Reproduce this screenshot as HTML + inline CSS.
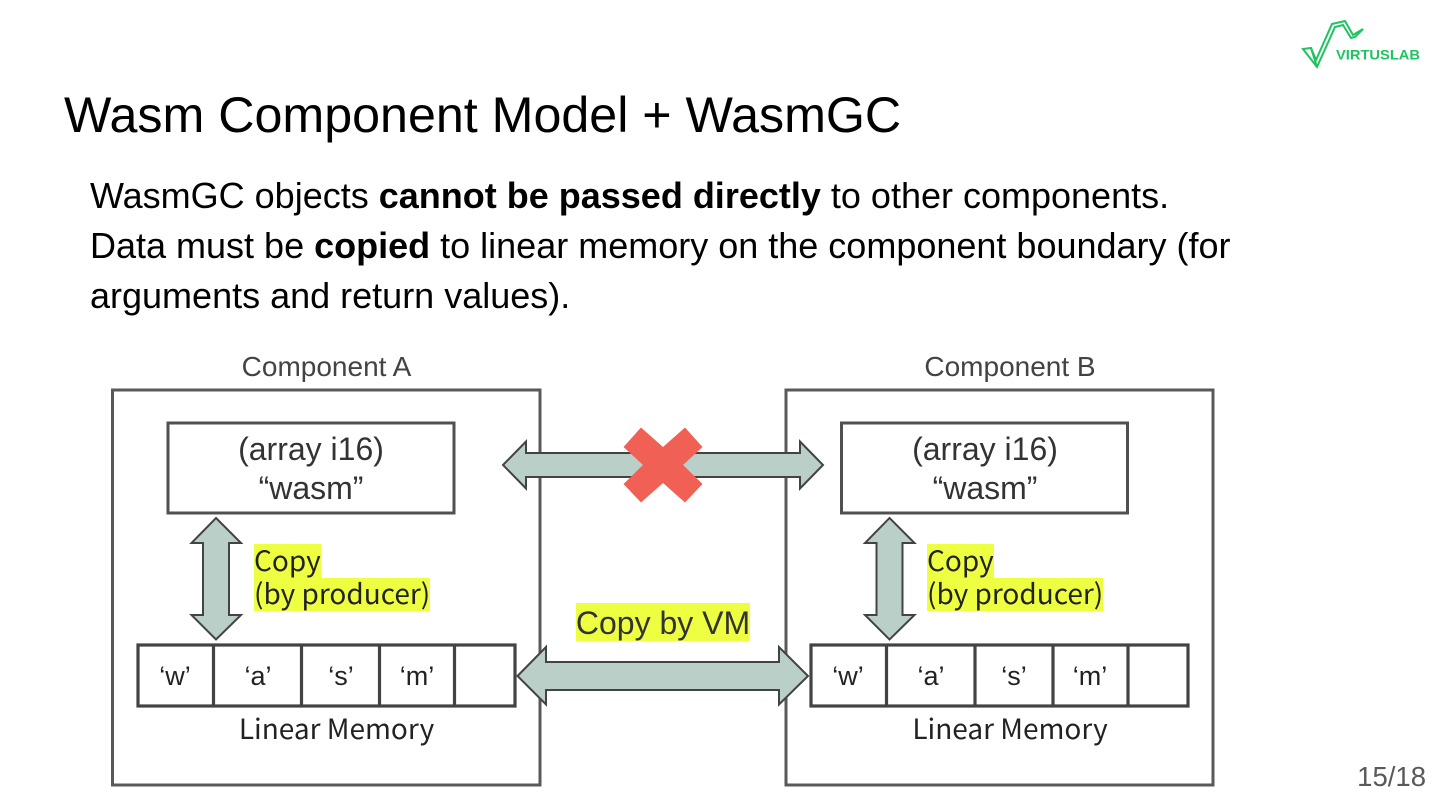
<!DOCTYPE html>
<html>
<head>
<meta charset="utf-8">
<style>
html,body{margin:0;padding:0;background:#fff;}
svg{display:block;}
text{font-family:"Liberation Sans",sans-serif;}
.jp{font-family:"Noto Sans CJK JP","Liberation Sans",sans-serif;}
</style>
</head>
<body>
<svg width="1440" height="810" viewBox="0 0 1440 810" xmlns="http://www.w3.org/2000/svg">
<rect width="1440" height="810" fill="#fff"/>
<!-- logo -->
<g fill="none" stroke="#1fc35f" stroke-width="2" stroke-linejoin="miter">
<path d="M1303 49 L1311 48 L1316 60 L1332 24 L1345 21 L1353 35 L1363 29 L1355 37 L1351 38 L1343 25 L1335 27 L1317 67 Z"/>
<path d="M1311 48 L1317 67"/>
</g>
<text x="1336" y="59.500" font-size="14" font-weight="bold" fill="#1fc35f" textLength="84" lengthAdjust="spacingAndGlyphs">VIRTUSLAB</text>
<!-- title -->
<text x="64" y="132" font-size="50.200" fill="#000">Wasm Component Model + WasmGC</text>
<!-- body -->
<text x="90" y="208" font-size="36" fill="#000">WasmGC objects <tspan font-weight="bold">cannot be passed directly</tspan> to other components.</text>
<text x="90" y="258" font-size="36" fill="#000">Data must be <tspan font-weight="bold">copied</tspan> to linear memory on the component boundary (for</text>
<text x="90" y="308" font-size="36" fill="#000">arguments and return values).</text>
<!-- component boxes -->
<g fill="none" stroke="#595959" stroke-width="3">
<rect x="112.5" y="390" width="427.5" height="395"/>
<rect x="786" y="390" width="427" height="395"/>
</g>
<text x="326.500" y="376" font-size="28" fill="#434343" text-anchor="middle">Component A</text>
<text x="1010" y="376" font-size="28" fill="#434343" text-anchor="middle">Component B</text>
<!-- array boxes -->
<g fill="#fff" stroke="#505050" stroke-width="3">
<rect x="168" y="423" width="286" height="90"/>
<rect x="841.500" y="423" width="286" height="90"/>
</g>
<g font-size="32" fill="#333" text-anchor="middle">
<text x="311" y="460">(array i16)</text>
<text x="311" y="499">“wasm”</text>
<text x="985" y="460">(array i16)</text>
<text x="985" y="499">“wasm”</text>
</g>
<!-- arrows -->
<g fill="#b9cfc8" stroke="#434343" stroke-width="2" stroke-linejoin="miter">
<path d="M503 465 L526 441.500 L526 453 L800 453 L800 441.500 L823 465 L800 488.500 L800 477 L526 477 L526 488.500 Z"/>
<path id="v1" d="M216 518 L241 543 L229 543 L229 615 L241 615 L216 639.500 L191.500 615 L203 615 L203 543 L191.500 543 Z"/>
<path d="M889.500 518 L914.500 543 L902.500 543 L902.500 615 L914.500 615 L889.500 639.500 L865 615 L876.500 615 L876.500 543 L865 543 Z"/>
</g>
<!-- memory -->
<g fill="#fff" stroke="#434343" stroke-width="3.200">
<rect x="138" y="645" width="377" height="61"/>
<path d="M213.500 645V706M301.500 645V706M379.500 645V706M454.500 645V706" fill="none"/>
<rect x="811" y="645" width="377" height="61"/>
<path d="M886.500 645V706M975 645V706M1053 645V706M1128 645V706" fill="none"/>
</g>
<path d="M517.500 676 L546 647 L546 662 L779 662 L779 647 L808 676 L779 704.500 L779 690 L546 690 L546 704.500 Z" fill="#b9cfc8" stroke="#434343" stroke-width="2"/>
<!-- X -->
<path d="M641 427.500 L663 447 L685 427.500 L702.500 447 L683 465 L702.500 484 L685 502.500 L663 483 L641 502.500 L623.500 484 L643 465 L623.500 447 Z" fill="#f16055"/>
<!-- memory text -->
<g font-size="27" fill="#222" text-anchor="middle">
<text x="175" y="685">‘w’</text>
<text x="258" y="685">‘a’</text>
<text x="341" y="685">‘s’</text>
<text x="417" y="685">‘m’</text>
<text x="848" y="685">‘w’</text>
<text x="931" y="685">‘a’</text>
<text x="1014" y="685">‘s’</text>
<text x="1090" y="685">‘m’</text>
</g>
<g font-size="28" fill="#222" text-anchor="middle">
<text class="jp" x="336.500" y="739">Linear Memory</text>
<text class="jp" x="1010" y="739">Linear Memory</text>
</g>
<!-- highlights -->
<g fill="#eeff41">
<rect x="254" y="544" width="67" height="34"/>
<rect x="254" y="578" width="176" height="33"/>
<rect x="927" y="544" width="67" height="34"/>
<rect x="927" y="578" width="176" height="33"/>
<rect x="576" y="603" width="174" height="38"/>
</g>
<g font-size="28" fill="#222">
<text class="jp" x="254" y="571">Copy</text>
<text class="jp" x="254" y="604">(by producer)</text>
<text class="jp" x="927" y="571">Copy</text>
<text class="jp" x="927" y="604">(by producer)</text>
</g>
<text x="663" y="634" font-size="32" fill="#333" text-anchor="middle">Copy by VM</text>
<!-- page number -->
<text x="1426" y="786" font-size="27.500" fill="#595959" text-anchor="end">15/18</text>
</svg>
</body>
</html>
